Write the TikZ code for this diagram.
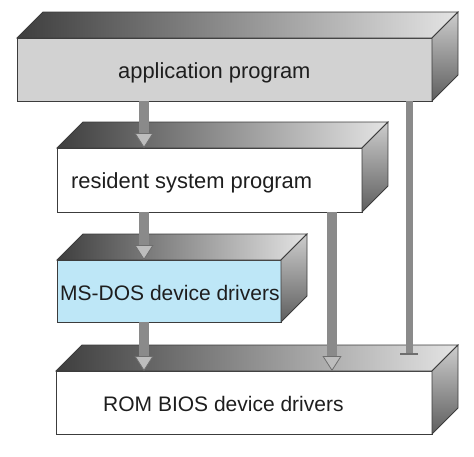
\documentclass[tikz,border=0pt]{standalone}
\usepackage{fontspec}
\setmainfont{Liberation Sans}
\usetikzlibrary{arrows.meta}
\definecolor{boxline}{HTML}{3C3C3C}
\definecolor{appfill}{HTML}{D2D2D2}
\definecolor{dosfill}{HTML}{BEE7F7}
\definecolor{topdark}{HTML}{3E3E3E}
\definecolor{toplight}{HTML}{E4E4E4}
\definecolor{sidelight}{HTML}{CDCDCD}
\definecolor{sidedark}{HTML}{5E5E5E}
\definecolor{shaftcol}{HTML}{8A8A8A}
\definecolor{headfill}{HTML}{BDBDBD}
\definecolor{headdraw}{HTML}{6E6E6E}
\definecolor{txtcol}{HTML}{1E1E1E}
\tikzset{
  frontbox/.style={draw=boxline, line width=0.8pt, inner sep=0pt, outer sep=0pt, anchor=north west},
  topface/.style={draw=boxline, line width=0.8pt, left color=topdark, right color=toplight},
  sideface/.style={draw=boxline, line width=0.8pt, top color=sidelight, bottom color=sidedark},
  lbl/.style={anchor=base west, inner sep=0pt, text=txtcol, font=\fontsize{21}{25}\selectfont},
  biglbl/.style={lbl, font=\fontsize{21.9}{26}\selectfont},
  callarrow/.style={draw=shaftcol, line width=10pt,
    -{Triangle[width=19pt,length=15pt,line width=0.8pt,fill=headfill,color=headdraw]}},
  callbar/.style={draw=shaftcol, line width=7pt,
    -{Bar[width=18pt,line width=2pt,color=headdraw]}}
}
\newcommand\boxfaces[1]{%
  \shade[topface] (#1.north west) -- ++(26,-26) -- ([shift={(26,-26)}]#1.north east) -- (#1.north east) -- cycle;
  \shade[sideface] (#1.north east) -- ++(26,-26) -- ([shift={(26,-26)}]#1.south east) -- (#1.south east) -- cycle;
}
\begin{document}
\begin{tikzpicture}[x=1pt,y=-1pt]
\useasboundingbox (0,0) rectangle (474,456);
% front faces
\node[frontbox, fill=appfill, minimum width=415pt, minimum height=63pt] (app) at (17,38) {};
\node[frontbox, fill=white,   minimum width=305pt, minimum height=64pt] (res) at (57,148) {};
\node[frontbox, fill=dosfill, minimum width=224pt, minimum height=62pt] (dos) at (57,260) {};
\node[frontbox, fill=white,   minimum width=376pt, minimum height=63pt] (rom) at (56,371) {};
\boxfaces{app}
\boxfaces{res}
\boxfaces{dos}
\boxfaces{rom}
% labels
\node[biglbl] (tapp) at (118,78) {application program};
\node[biglbl] (tres) at (71,188) {resident system program};
\node[lbl] (tdos) at (60,300) {MS-DOS device drivers};
\node[lbl] (trom) at (103,411) {ROM BIOS device drivers};
% connector columns
\coordinate (cA) at (144,0);
\coordinate (cB) at (332,0);
\coordinate (cC) at (409,0);
\coordinate (barend) at (409,355);
\draw[callarrow] (app.south -| cA) -- (res.north -| cA);
\draw[callarrow] (res.south -| cA) -- (dos.north -| cA);
\draw[callarrow] (dos.south -| cA) -- (rom.north -| cA);
\draw[callarrow] (res.south -| cB) -- (rom.north -| cB);
\draw[callbar] (app.south -| cC) -- (barend);
\end{tikzpicture}
\end{document}
